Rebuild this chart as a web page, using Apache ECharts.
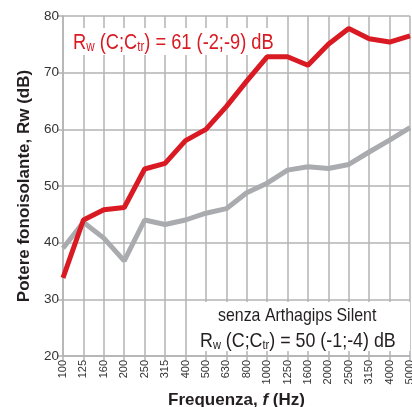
<!DOCTYPE html>
<html>
<head>
<meta charset="utf-8">
<script src="https://cdn.jsdelivr.net/npm/echarts@6/dist/echarts.min.js"></script>
<style>
  html, body { margin: 0; padding: 0; background: #fff; }
  #chart { width: 412px; height: 407px; }
</style>
</head>
<body>
<div id="chart"></div>
<script>
// frequenze in terzi di ottava
const frequencies = ['100', '125', '160', '200', '250', '315', '400', '500', '630', '800',
  '1000', '1250', '1600', '2000', '2500', '3150', '4000', '5000']
// con Arthagips Silent (rosso)
const withSilent = [33.8, 44, 45.8, 46.2, 53, 54, 58, 60, 64, 68.5,
  72.8, 72.8, 71.3, 75, 77.8, 76, 75.4, 76.5]
// senza Arthagips Silent (grigio)
const withoutSilent = [39, 43.6, 40.8, 36.8, 44, 43.2, 44, 45.2, 46, 48.8,
  50.5, 52.8, 53.4, 53.1, 53.8, 56, 58.1, 60.3]
const yTicks = [20, 30, 40, 50, 60, 70, 80]

const font = '"Liberation Sans", Arial, sans-serif'
const gridColor = '#b3b3b5'
const dark = '#231f20'
const red = '#d91a23'
const grey = '#a9abae'

// testo "Rw (C;Ctr) = ..." con pedici
function rwText(value, color, size) {
  return {
    text: '{m|R}{s|w}{m| (C;C}{s|tr}{m|) = ' + value + ' dB}',
    verticalAlign: 'top',
    rich: {
      m: { fontFamily: font, fontSize: size, fill: color, verticalAlign: 'bottom', lineHeight: size + 3 },
      s: { fontFamily: font, fontSize: Math.round(size * 0.62), fill: color, verticalAlign: 'bottom', lineHeight: size - 2 },
    },
  }
}

const chart = echarts.init(document.getElementById('chart'))

const option = {
  animation: false,
  grid: { left: 63, right: 2, top: 16, bottom: 51, outerBoundsMode: 'none' },
  xAxis: {
    type: 'category',
    data: frequencies,
    boundaryGap: false,
    name: '{b|Frequenza, }{i|f}{b| (Hz)}',
    nameLocation: 'middle',
    nameGap: 35,
    nameMoveOverlap: false,
    nameTextStyle: {
      verticalAlign: 'top',
      rich: {
        b: { fontFamily: font, fontWeight: 'bold', fontSize: 17, color: dark, lineHeight: 18 },
        i: { fontFamily: font, fontWeight: 'bold', fontStyle: 'italic', fontSize: 17, color: dark, lineHeight: 18 },
      },
    },
    axisLine: { lineStyle: { color: gridColor, width: 1.5 } },
    axisTick: { show: true, length: 4, lineStyle: { color: gridColor, width: 1.5 } },
    axisLabel: { rotate: 90, fontFamily: font, fontSize: 11, color: '#333', margin: 4, interval: 0 },
    splitLine: { show: true, lineStyle: { color: gridColor, width: 1.5 } },
  },
  yAxis: {
    type: 'value',
    min: yTicks[0],
    max: yTicks[yTicks.length - 1],
    interval: 10,
    name: 'Potere fonoisolante, Rw (dB)',
    nameLocation: 'middle',
    nameRotate: 90,
    nameGap: 29,
    nameTextStyle: { fontFamily: font, fontWeight: 'bold', fontSize: 17, color: dark },
    axisLine: { show: true, lineStyle: { color: gridColor, width: 1.5 } },
    axisTick: { show: true, length: 6, lineStyle: { color: gridColor, width: 1.5 } },
    axisLabel: { fontFamily: font, fontSize: 13.5, color: '#333', margin: 4 },
    splitLine: { show: true, lineStyle: { color: gridColor, width: 1.5 } },
  },
  series: [
    {
      name: 'senza Arthagips Silent',
      type: 'line',
      data: withoutSilent,
      symbol: 'none',
      lineStyle: { color: grey, width: 5 },
      z: 3,
    },
    {
      name: 'con Arthagips Silent',
      type: 'line',
      data: withSilent,
      symbol: 'none',
      lineStyle: { color: red, width: 5 },
      z: 4,
    },
  ],
  graphic: [
    {
      type: 'rect',
      x: 67, y: 28,
      shape: { width: 219, height: 27 },
      style: { fill: '#fff' },
      z: 1,
    },
    {
      type: 'text',
      x: 73, y: 29,
      scaleX: 0.83,
      z: 2,
      style: rwText('61 (-2;-9)', red, 22),
    },
    {
      type: 'rect',
      x: 198, y: 302,
      shape: { width: 212, height: 49 },
      style: { fill: '#fff' },
      z: 1,
    },
    {
      type: 'text',
      x: 218, y: 306,
      scaleX: 0.86,
      z: 2,
      style: { text: 'senza Arthagips Silent', fontFamily: font, fontSize: 18.5, fill: dark, verticalAlign: 'top' },
    },
    {
      type: 'text',
      x: 200, y: 328,
      scaleX: 0.85,
      z: 2,
      style: rwText('50 (-1;-4)', dark, 21),
    },
  ],
}

chart.setOption(option)
</script>
</body>
</html>
